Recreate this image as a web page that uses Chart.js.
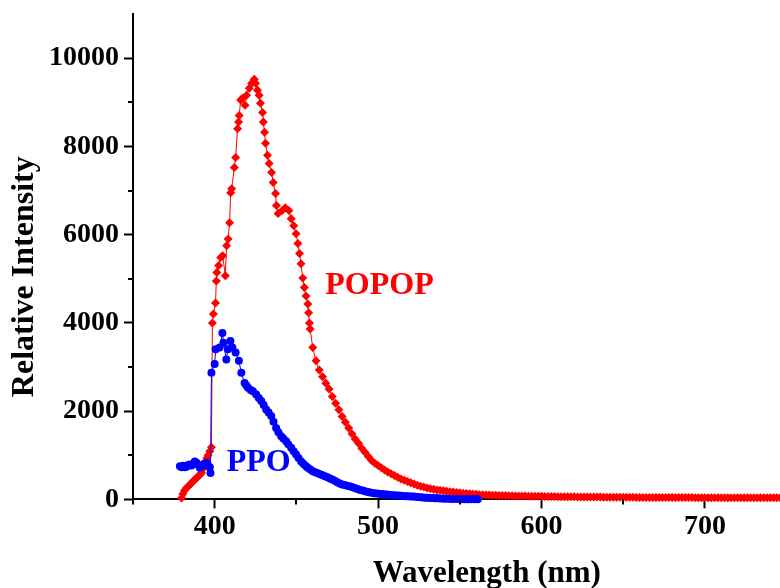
<!DOCTYPE html>
<html>
<head>
<meta charset="utf-8">
<script src="https://cdn.jsdelivr.net/npm/chart.js@4.4.1/dist/chart.umd.min.js"></script>
<style>
  html, body { margin: 0; padding: 0; background: #fff; overflow: hidden; }
  #wrap { width: 845px; height: 588px; }
</style>
</head>
<body>
<div id="wrap"><canvas id="chart" width="845" height="588"></canvas></div>
<script>
// POPOP emission (red diamonds)
const popopWavelength = [
    379.7, 380.5, 381.5, 382.7, 383.8, 385, 385.8, 387, 388, 388.8, 390, 391, 391.9, 393, 393.9, 394.6, 395.3, 396, 397, 398,
    398.6, 399.2, 400.5, 401, 401.3, 402.4, 403.7, 404.9, 406.5, 407.3, 408.2, 409.1, 409.8, 410.4, 412, 412.8, 414, 414.6, 415, 415.9,
    417, 418.6, 419.5, 421.2, 422.6, 424.2, 425, 426.2, 427.2, 428, 429.3, 429.8, 430.5, 431.1, 432.3, 433.3, 434.8, 435.8, 437.2, 437.8,
    438.8, 441.3, 443.2, 445.4, 446.8, 448.4, 449.8, 450.9, 451.9, 452.8, 453.9, 454.9, 455.9, 457, 457.5, 458, 458.4,
    460, 462, 464, 466, 468, 470, 472, 474, 476, 478, 480, 482, 484, 486, 488, 490, 492, 494, 496, 498,
    500, 502, 504, 506, 508, 510, 512, 514, 516, 518, 520, 522, 524, 526, 528, 530, 532, 534, 536, 538,
    540, 542, 544, 546, 548, 550, 552, 554, 556, 558, 560, 562, 564, 566, 568, 570, 572, 574, 576, 578,
    580, 582, 584, 586, 588, 590, 592, 594, 596, 598, 600, 602, 604, 606, 608, 610, 612, 614, 616, 618,
    620, 622, 624, 626, 628, 630, 632, 634, 636, 638, 640, 642, 644, 646, 648, 650, 652, 654, 656, 658,
    660, 662, 664, 666, 668, 670, 672, 674, 676, 678, 680, 682, 684, 686, 688, 690, 692, 694, 696, 698,
    700, 702, 704, 706, 708, 710, 712, 714, 716, 718, 720, 722, 724, 726, 728, 730, 732, 734, 736, 738,
    740, 742, 744, 746, 748, 750, 752, 754, 756, 758, 760, 762, 764, 766, 768, 770, 772, 774, 776, 778,
    780, 782, 784
];
const popopIntensity = [
    30, 120, 200, 260, 300, 340, 370, 420, 450, 480, 530, 560, 600, 700, 800, 870, 940, 1000, 1090, 1180,
    4000, 4200, 4450, 4950, 5140, 5300, 5480, 5520, 5070, 5750, 5900, 6270, 6950, 7040, 7520, 7750, 8400, 8550, 8700, 9050,
    9090, 8930, 9160, 9320, 9430, 9520, 9430, 9270, 9160, 8980, 8770, 8550, 8320, 8070, 7800, 7610, 7410, 7180, 6930, 6660,
    6480, 6545, 6610, 6545, 6360, 6200, 6020, 5800, 5570, 5340, 5020, 4800, 4610, 4430, 4230, 4000, 3860,
    3440, 3140, 2930, 2780, 2630, 2500, 2330, 2180, 2030, 1880, 1750, 1620, 1490, 1370, 1270, 1160, 1070, 970, 880, 820,
    770, 720, 665, 620, 580, 540, 500, 465, 435, 405, 375, 348, 322, 300, 280, 260, 242, 228, 215, 205,
    195, 185, 175, 165, 155, 148, 140, 133, 127, 120, 114, 108, 104, 100, 97, 94, 92, 90, 88, 86,
    83, 80, 79, 78, 76, 75, 74, 72, 71, 70, 69, 68, 66, 65, 63, 62, 61, 60, 59, 58,
    58, 57, 56, 55, 54, 53, 53, 52, 52, 51, 50, 49, 48, 48, 47, 47, 46, 46, 46, 45,
    45, 45, 44, 44, 44, 44, 43, 43, 43, 42, 42, 42, 42, 41, 41, 41, 41, 40, 40, 40,
    40, 40, 40, 40, 39, 39, 39, 39, 39, 38, 38, 38, 38, 38, 38, 38, 37, 37, 37, 37,
    37, 37, 37, 36, 36, 36, 36, 36, 36, 36, 36, 36, 35, 35, 35, 35, 35, 35, 35, 35,
    35, 35, 35
];

// PPO emission (blue circles)
const ppoWavelength = [
    378.7, 379.7, 380.7, 381.7, 382.7, 383.8, 384.8, 385.8, 386.8, 387.8, 388.8, 389.8, 390.9, 391.9, 392.9, 394, 394.9, 396, 397, 397.4,
    398, 400, 400.6, 403, 404.7, 405.4, 407.1, 408.1, 409.6, 410.8, 412.8, 414.8, 416.3, 418.3, 419.4, 420.4, 422, 423.4,
    425.4, 427, 428.5, 430, 431.5, 433, 434.6, 436, 437.6, 439, 440.7, 442, 443.7, 445, 446.8, 448.3, 449.8, 451.3, 452.9, 454.4, 455.9,
    457, 458.5, 460, 461.5, 463, 464.5, 466, 467.5, 469, 470.5, 472, 473.5, 475, 476.5, 478, 479.5, 481, 482.5, 484, 485.5,
    487, 488.5, 490, 491.5, 493, 494.5, 496, 497.5, 499, 500.5, 502, 503.5, 505, 506.5, 508, 509.5, 511, 512.5, 514, 515.5,
    517, 518.5, 520, 521.5, 523, 524.5, 526, 527.5, 529, 530.5, 532, 533.5, 535, 536.5, 538, 539.5, 541, 543, 545, 547,
    549, 551, 553, 555, 557, 559, 561
];
const ppoIntensity = [
    750, 730, 760, 730, 740, 780, 790, 770, 800, 860, 830, 790, 720, 750, 790, 800, 830, 760, 730, 600,
    2870, 3070, 3400, 3440, 3770, 3550, 3170, 3400, 3590, 3440, 3330, 3140, 2870, 2640, 2580, 2530, 2480, 2450,
    2380, 2300, 2230, 2140, 2040, 1970, 1890, 1760, 1620, 1520, 1430, 1380, 1320, 1250, 1170, 1090, 1020, 940, 860, 800, 750,
    720, 680, 640, 615, 595, 570, 550, 525, 500, 475, 450, 420, 390, 360, 340, 325, 310, 300, 280, 260,
    240, 220, 205, 190, 175, 160, 150, 142, 135, 128, 122, 117, 112, 107, 100, 95, 91, 87, 82, 78,
    74, 71, 68, 64, 58, 53, 48, 44, 40, 36, 33, 30, 27, 24, 21, 19, 16, 13, 11, 9,
    7, 6, 5, 4, 3, 2, 1
];

// text labels inside the plot (wavelength, intensity)
const labelText = ['POPOP', 'PPO'];
const labelX = [467.7, 407.3];
const labelY = [4840, 820];
const labelColor = ['#ff0000', '#0000ff'];

const xTicks = [350, 400, 450, 500, 550, 600, 650, 700, 750];
const xLabelled = [400, 500, 600, 700];
const yTicks = [0, 1000, 2000, 3000, 4000, 5000, 6000, 7000, 8000, 9000, 10000, 11000];
const yLabelled = [0, 2000, 4000, 6000, 8000, 10000];
const xTitle = 'Wavelength (nm)';
const yTitle = 'Relative Intensity';

const serif = '"Liberation Serif", "Times New Roman", serif';
const tickFont = { family: serif, size: 28, weight: 'bold' };

const toPoints = (xs, ys) => xs.map((x, i) => ({ x: x, y: ys[i] }));

// curve labels, axis titles and the short minor ticks
const textLayer = {
    id: 'textLayer',
    afterDatasetsDraw(chart) {
        const ctx = chart.ctx;
        const xs = chart.scales.x;
        const ys = chart.scales.y;
        const area = chart.chartArea;
        ctx.save();

        ctx.strokeStyle = '#000';
        ctx.lineWidth = 2;
        ctx.beginPath();
        xTicks.filter(v => v % 100 !== 0).forEach(v => {
            const px = Math.round(xs.getPixelForValue(v));
            ctx.moveTo(px, area.bottom);
            ctx.lineTo(px, area.bottom + 5);
        });
        yTicks.filter(v => v % 2000 !== 0 && v < 11000).forEach(v => {
            const py = Math.round(ys.getPixelForValue(v));
            ctx.moveTo(area.left, py);
            ctx.lineTo(area.left - 5, py);
        });
        ctx.stroke();

        ctx.font = 'bold 32px ' + serif;
        ctx.textAlign = 'left';
        ctx.textBaseline = 'middle';
        labelText.forEach((t, i) => {
            ctx.fillStyle = labelColor[i];
            ctx.fillText(t, xs.getPixelForValue(labelX[i]), ys.getPixelForValue(labelY[i]));
        });

        ctx.fillStyle = '#000';
        ctx.textAlign = 'center';
        ctx.font = 'bold 31px ' + serif;
        ctx.fillText(xTitle, (area.left + area.right) / 2, area.bottom + 75);

        ctx.translate(area.left - 108, (area.top + area.bottom) / 2 + 20);
        ctx.rotate(-Math.PI / 2);
        ctx.font = 'bold 32px ' + serif;
        ctx.fillText(yTitle, 0, 0);
        ctx.restore();
    }
};

const ctx = document.getElementById('chart').getContext('2d');
new Chart(ctx, {
    type: 'line',
    data: {
        datasets: [
            {
                label: 'PPO',
                data: toPoints(ppoWavelength, ppoIntensity),
                borderColor: '#0000ff',
                backgroundColor: '#0000ff',
                borderWidth: 1,
                pointStyle: 'circle',
                pointRadius: 4,
                pointBorderWidth: 0,
                tension: 0,
                clip: false
            },
            {
                label: 'POPOP',
                data: toPoints(popopWavelength, popopIntensity),
                borderColor: '#ff0000',
                backgroundColor: '#ff0000',
                borderWidth: 1,
                pointStyle: 'rectRot',
                pointRadius: 4.5,
                pointBorderWidth: 0,
                tension: 0,
                clip: false
            }
        ]
    },
    options: {
        responsive: false,
        animation: false,
        layout: { padding: { left: 44, right: 2, top: 14, bottom: 42 } },
        plugins: {
            legend: { display: false },
            tooltip: { enabled: false }
        },
        scales: {
            x: {
                type: 'linear',
                min: 350,
                max: 783,
                border: { display: true, color: '#000', width: 2 },
                grid: {
                    drawOnChartArea: false,
                    tickLength: 9,
                    tickWidth: 2,
                    tickColor: (c) => (c.tick && xLabelled.includes(c.tick.value)) ? '#000' : 'rgba(0,0,0,0)'
                },
                afterBuildTicks: (axis) => { axis.ticks = xTicks.map(v => ({ value: v })); },
                ticks: {
                    color: '#000',
                    padding: 2,
                    font: tickFont,
                    callback: (v) => xLabelled.includes(v) ? String(v) : ''
                }
            },
            y: {
                type: 'linear',
                min: 0,
                max: 11000,
                border: { display: true, color: '#000', width: 2 },
                grid: {
                    drawOnChartArea: false,
                    tickLength: 9,
                    tickWidth: 2,
                    tickColor: (c) => (c.tick && yLabelled.includes(c.tick.value)) ? '#000' : 'rgba(0,0,0,0)'
                },
                afterBuildTicks: (axis) => { axis.ticks = yTicks.map(v => ({ value: v })); },
                ticks: {
                    color: '#000',
                    padding: 5,
                    // the unlabelled top tick gets a tiny font so it reserves no room above the axis
                    font: (c) => (c.tick && c.tick.value > 10000) ? { family: serif, size: 1 } : tickFont,
                    callback: (v) => yLabelled.includes(v) ? String(v) : ''
                }
            }
        }
    },
    plugins: [textLayer]
});
</script>
</body>
</html>
